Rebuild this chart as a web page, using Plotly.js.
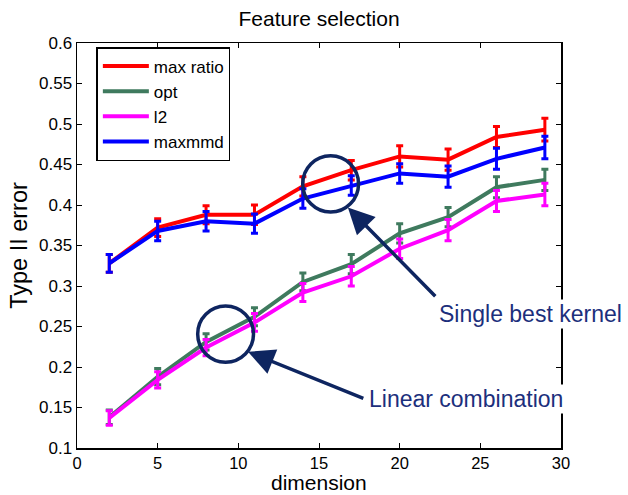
<!DOCTYPE html>
<html>
<head>
<meta charset="utf-8">
<script src="https://cdn.plot.ly/plotly-3.0.1.min.js"></script>
<style>html,body{margin:0;padding:0;background:#fff}#chart{width:628px;height:495px}</style>
</head>
<body>
<div id="chart"></div>
<script>
const dims = [2, 5, 8, 11, 14, 17, 20, 23, 26, 29];
const maxRatio = [0.328, 0.372, 0.388, 0.388, 0.423, 0.443, 0.460, 0.456, 0.484, 0.493];
const maxRatioErr = [0.011, 0.011, 0.011, 0.012, 0.012, 0.012, 0.013, 0.013, 0.013, 0.014];
const opt = [0.138, 0.188, 0.231, 0.262, 0.305, 0.327, 0.365, 0.385, 0.422, 0.431];
const optErr = [0.009, 0.010, 0.010, 0.011, 0.011, 0.012, 0.012, 0.012, 0.013, 0.013];
const l2 = [0.137, 0.184, 0.224, 0.255, 0.292, 0.312, 0.346, 0.369, 0.405, 0.413];
const l2Err = [0.009, 0.010, 0.010, 0.011, 0.011, 0.012, 0.012, 0.013, 0.013, 0.014];
const maxmmd = [0.328, 0.368, 0.380, 0.377, 0.408, 0.424, 0.439, 0.435, 0.457, 0.471];
const maxmmdErr = [0.011, 0.012, 0.012, 0.012, 0.012, 0.012, 0.012, 0.013, 0.013, 0.014];
const seriesNames = ['max ratio', 'opt', 'l2', 'maxmmd'];
const seriesColors = ['#ff0000', '#3f7a5e', '#ff00ff', '#0000ff'];
const yTicks = [0.1, 0.15, 0.2, 0.25, 0.3, 0.35, 0.4, 0.45, 0.5, 0.55, 0.6];
const yTickText = ['0.1', '0.15', '0.2', '0.25', '0.3', '0.35', '0.4', '0.45', '0.5', '0.55', '0.6'];
const xTicks = [0, 5, 10, 15, 20, 25, 30];

const FONT = 'Liberation Sans, Arial, sans-serif';
const NAVY = '#0e2560';
const TEXTBLUE = '#1c2f7c';

const ys = [maxRatio, opt, l2, maxmmd];
const errs = [maxRatioErr, optErr, l2Err, maxmmdErr];
const traces = ys.map((y, i) => ({
  x: dims, y: y, name: seriesNames[i], type: 'scatter', mode: 'lines',
  line: {color: seriesColors[i], width: 4},
  error_y: {type: 'data', array: errs[i], visible: true, color: seriesColors[i], thickness: 3, width: 3.5}
}));

const layout = {
  width: 628, height: 495,
  margin: {l: 77, r: 67, t: 43, b: 47},
  paper_bgcolor: '#fff', plot_bgcolor: '#fff',
  font: {family: FONT, size: 17, color: '#000'},
  title: {text: 'Feature selection', font: {family: FONT, size: 21, color: '#000'}, x: 0.508, xanchor: 'center', y: 0.978, yanchor: 'top'},
  showlegend: true,
  legend: {x: 0.04, y: 0.99, xanchor: 'left', yanchor: 'top', bgcolor: '#fff', bordercolor: '#000', borderwidth: 1.5,
    font: {family: FONT, size: 17, color: '#000'}, tracegroupgap: 0, itemwidth: 46},
  xaxis: {range: [0, 30], tickvals: xTicks, ticks: 'inside', ticklen: 5, tickcolor: '#000', showgrid: false, zeroline: false,
    showline: true, linecolor: '#000', linewidth: 1.5, mirror: 'ticks',
    tickfont: {family: FONT, size: 16.5, color: '#000'}},
  yaxis: {range: [0.1, 0.6], tickvals: yTicks, ticktext: yTickText, ticks: 'inside', ticklen: 5, tickcolor: '#000', showgrid: false, zeroline: false,
    showline: true, linecolor: '#000', linewidth: 1.5, mirror: 'ticks',
    tickfont: {family: FONT, size: 17, color: '#000'},
    title: {text: 'Type II error', font: {family: FONT, size: 23.5, color: '#000'}, standoff: 5}},
  shapes: [
    {type: 'circle', xref: 'x', yref: 'y', x0: 15.72 - 1.73, x1: 15.72 + 1.73, y0: 0.426 - 0.0347, y1: 0.426 + 0.0347, line: {color: NAVY, width: 3.5}},
    {type: 'circle', xref: 'x', yref: 'y', x0: 9.21 - 1.73, x1: 9.21 + 1.73, y0: 0.2407 - 0.0347, y1: 0.2407 + 0.0347, line: {color: NAVY, width: 3.5}}
  ],
  annotations: [
    {x: 0.5, y: 0, xref: 'paper', yref: 'paper', text: 'dimension', showarrow: false, xanchor: 'center', yanchor: 'top', yshift: -22,
      borderpad: 0, font: {family: FONT, size: 21, color: '#000'}},
    {x: 16.79, y: 0.397, xref: 'x', yref: 'y', ax: 22.3, ay: 0.2856, axref: 'x', ayref: 'y', text: '', showarrow: true,
      arrowhead: 2, arrowsize: 1.5, arrowwidth: 3.5, arrowcolor: NAVY, standoff: 0},
    {x: 10.6, y: 0.2188, xref: 'x', yref: 'y', ax: 17.84, ay: 0.1606, axref: 'x', ayref: 'y', text: '', showarrow: true,
      arrowhead: 2, arrowsize: 1.5, arrowwidth: 3.5, arrowcolor: NAVY, standoff: 0},
    {x: 22.3, y: 0.2658, xref: 'x', yref: 'y', text: 'Single best kernel', showarrow: false, xanchor: 'left', yanchor: 'middle',
      bgcolor: '#fff', font: {family: FONT, size: 23, color: TEXTBLUE}},
    {x: 18.0, y: 0.1605, xref: 'x', yref: 'y', text: 'Linear combination', showarrow: false, xanchor: 'left', yanchor: 'middle',
      bgcolor: '#fff', font: {family: FONT, size: 23, color: TEXTBLUE}}
  ]
};

Plotly.newPlot('chart', traces, layout, {displayModeBar: false, staticPlot: true});
</script>
</body>
</html>
